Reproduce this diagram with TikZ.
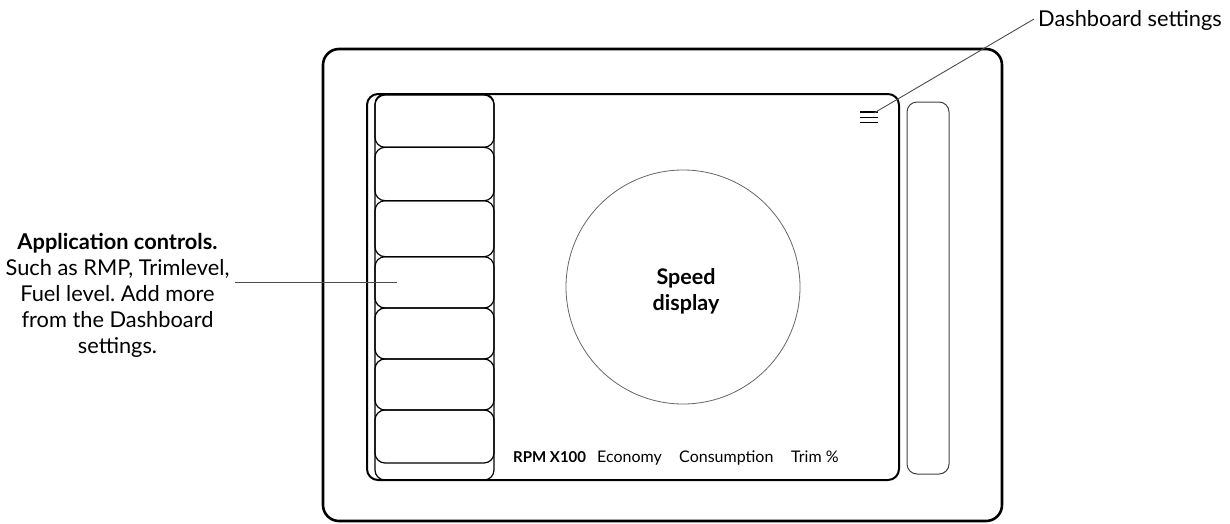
\documentclass[tikz,border=0pt]{standalone}
\usepackage{fontspec}
\setmainfont{Lato}
\frenchspacing
\begin{document}
\begin{tikzpicture}[x=1pt,y=-1pt,line join=round,
  frame/.style={draw=black,line width=2.6pt,rounded corners=16pt},
  screen/.style={draw=black,line width=2pt,rounded corners=11pt},
  btn/.style={draw=black,line width=1.2pt,rounded corners=10pt},
  sidebar/.style={draw=black!75,line width=1pt,rounded corners=10pt},
  leader/.style={draw=black!70,line width=0.9pt},
  burger/.style={draw=black,line width=1.5pt},
  lbl/.style={inner sep=0pt,anchor=base west,font=\fontsize{16}{18}\selectfont},
  note/.style={inner sep=0pt,font=\fontsize{21.8}{26}\selectfont}]
\useasboundingbox (0,0) rectangle (1230,523);
% outer device frame
\draw[frame] (323,49) rectangle (1002,521);
% screen
\draw[screen] (367,94) rectangle (899,480);
% side bar on the right
\draw[sidebar] (907,102) rectangle (949,474);
% application control column
\draw[btn] (375,94) rectangle (494,480);
\foreach \ya/\yb in {95/147.3,147.3/200.7,200.7/256.7,256.7/308,308/359,359/410,410/463}
  \draw[btn] (375,\ya) rectangle (494,\yb);
% hamburger icon
\draw[burger] (860,112) -- (878,112);
\draw[burger] (860,117.3) -- (878,117.3);
\draw[burger] (860,122.6) -- (878,122.6);
% speed display
\node[circle,draw=black!60,line width=0.8pt,minimum size=234pt,inner sep=0pt] (speed) at (683,287) {};
\node[inner sep=0pt,align=center,font=\bfseries\fontsize{21.5}{25.5}\selectfont,anchor=base] (speedtxt) at (686,310) {Speed\\display};
% bottom labels
\node[lbl,font=\bfseries\fontsize{15}{18}\selectfont] (rpm) at (513,462.5) {RPM X100};
\node[lbl] (eco) at (597,462.5) {Economy};
\node[lbl] (cons) at (679,462.5) {Consumption};
\node[lbl] (trim) at (791,462.5) {Trim \%};
% annotations
\node[note,anchor=base west] (dash) at (1038,26) {Dashboard settings};
\coordinate (dashend) at (1034,19);
\coordinate (burgerpt) at (874,113);
\draw[leader] (burgerpt) -- (dashend);
\node[note,align=center,anchor=base] (app) at (117.5,353) {\textbf{Application controls.}\\Such as RMP, Trimlevel,\\Fuel level. Add more\\from the Dashboard\\settings.};
\coordinate (appstart) at (235,282);
\coordinate (append) at (397,282);
\draw[leader] (appstart) -- (append);
\end{tikzpicture}
\end{document}
